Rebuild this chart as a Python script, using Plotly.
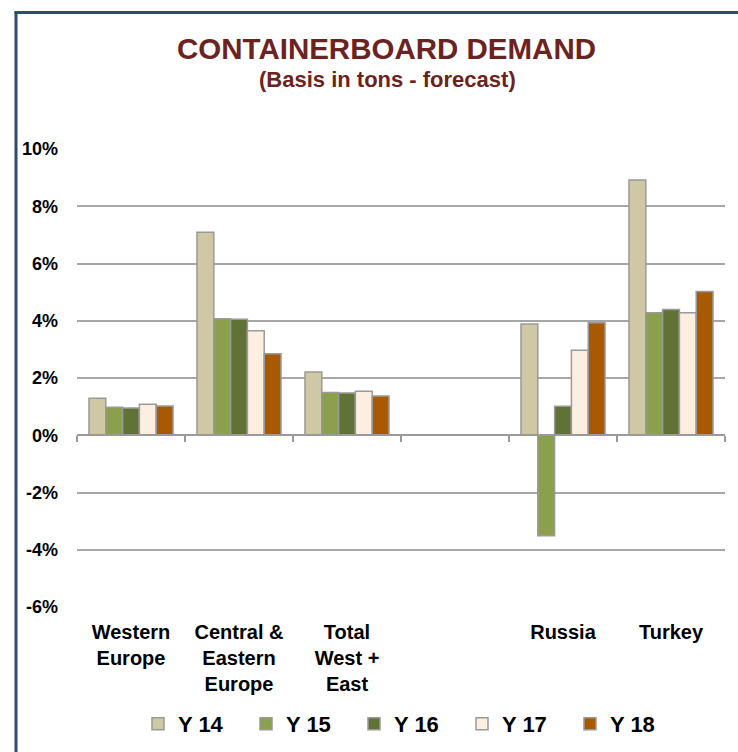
import plotly.graph_objects as go

categories = ["Western<br>Europe", "Central &<br>Eastern<br>Europe", "Total<br>West +<br>East", " ", "Russia", "Turkey"]
series_names = ["Y 14", "Y 15", "Y 16", "Y 17", "Y 18"]
y14 = [1.29, 7.09, 2.21, None, 3.89, 8.92]
y15 = [0.98, 4.07, 1.49, None, -3.51, 4.28]
y16 = [0.95, 4.05, 1.48, None, 1.01, 4.39]
y17 = [1.08, 3.65, 1.54, None, 2.97, 4.28]
y18 = [1.02, 2.85, 1.37, None, 3.93, 5.02]
series_values = [y14, y15, y16, y17, y18]
colors = ["#CFC8A4", "#8BA04D", "#617236", "#FDEEE2", "#A95A00"]
y_ticks = [-6, -4, -2, 0, 2, 4, 6, 8, 10]
y_tick_labels = [f"{v}%" for v in y_ticks]

FONT = "Liberation Sans, Arial, sans-serif"
TITLE_COLOR = "#6B2322"

fig = go.Figure()
for name, vals, col in zip(series_names, series_values, colors):
    fig.add_trace(go.Bar(
        x=categories, y=vals, name=name,
        marker=dict(color=col, line=dict(color="#9A9A9A", width=1.5)),
    ))

# hidden trace to carry the zero-line axis with boundary ticks
fig.add_trace(go.Scatter(x=categories, y=[None] * len(categories), xaxis="x2",
                         showlegend=False, hoverinfo="skip", mode="markers"))

W, H = 738, 752
L, R, T, B = 77, 13, 149, 145
pw, ph = W - L - R, H - T - B

def px_x(x):
    return (x - L) / pw

def px_y(y):
    return (H - B - y) / ph

fig.update_layout(
    width=W, height=H,
    margin=dict(l=L, r=R, t=T, b=B, autoexpand=False),
    paper_bgcolor="white", plot_bgcolor="white",
    barmode="group", bargap=0.222, bargroupgap=0,
    font=dict(family=FONT, color="black"),
    showlegend=True,
    legend=dict(orientation="h", x=px_x(408), xanchor="center", y=px_y(724), yanchor="middle",
                font=dict(size=22, family=FONT, color="black", weight="bold"),
                entrywidth=63, traceorder="normal"),
    xaxis=dict(type="category", categoryorder="array", categoryarray=categories,
               range=[-0.5, 5.5], showgrid=False, showline=False, ticks="",
               tickfont=dict(size=20, family=FONT, color="black", weight="bold"),
               ticklabelstandoff=11, automargin=False),
    xaxis2=dict(type="category", categoryorder="array", categoryarray=categories,
                range=[-0.5, 5.5], overlaying="x", anchor="free", position=6 / 16,
                side="bottom", showgrid=False, showline=True, linecolor="#9A9A9A", linewidth=1.5,
                ticks="outside", tickson="boundaries", ticklen=6, tickwidth=1.5, tickcolor="#9A9A9A",
                showticklabels=False, automargin=False),
    yaxis=dict(range=[-6, 10], tickvals=y_ticks, ticktext=y_tick_labels,
               showgrid=True, gridcolor="#A6A6A6", gridwidth=1.5,
               zeroline=True, zerolinecolor="#A6A6A6", zerolinewidth=1.5,
               showline=False, ticks="", ticklabelstandoff=18, automargin=False,
               tickfont=dict(size=18, family=FONT, color="black", weight="bold")),
    annotations=[
        dict(text="<b>CONTAINERBOARD DEMAND</b>", xref="paper", yref="paper",
             x=px_x(386), y=px_y(49), xanchor="center", yanchor="middle", showarrow=False,
             font=dict(size=29.5, family=FONT, color=TITLE_COLOR)),
        dict(text="<b>(Basis in tons - forecast)</b>", xref="paper", yref="paper",
             x=px_x(387), y=px_y(80), xanchor="center", yanchor="middle", showarrow=False,
             font=dict(size=22, family=FONT, color=TITLE_COLOR)),
    ],
    shapes=[
        dict(type="line", xref="paper", yref="paper", x0=px_x(16), x1=px_x(16),
             y0=px_y(12), y1=px_y(770), line=dict(color="#2F4B72", width=3)),
        dict(type="line", xref="paper", yref="paper", x0=px_x(14.5), x1=px_x(745),
             y0=px_y(12.5), y1=px_y(12.5), line=dict(color="#2F4B72", width=3)),
    ],
)

fig.write_html(
    "out.html",
    config={"displayModeBar": False},
    post_script=(
        "document.documentElement.style.margin='0px';"
        "document.documentElement.style.overflow='hidden';"
        "document.body.style.margin='0px';"
        "document.body.style.overflow='hidden';"
        "var gd=document.getElementsByClassName('plotly-graph-div')[0];"
        "gd.style.position='fixed';gd.style.left='0px';gd.style.top='0px';"
    ),
)
